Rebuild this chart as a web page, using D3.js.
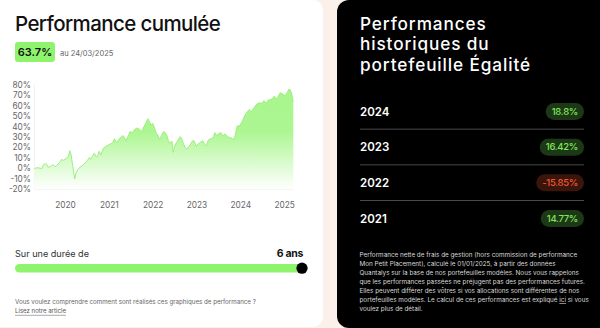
<!DOCTYPE html>
<html>
<head>
<meta charset="utf-8">
<script src="https://cdn.jsdelivr.net/npm/d3@7"></script>
<style>
  body { margin: 0; background: #fcf1ea; }
  svg { display: block; font-family: Inter, "Noto Sans", sans-serif; }
</style>
</head>
<body>
<svg id="chart" width="600" height="328"></svg>
<script>
// cumulated performance, decimal year -> %
const years = [2019.30, 2019.35, 2019.43, 2019.47, 2019.51, 2019.54, 2019.58, 2019.62, 2019.66, 2019.70,
  2019.73, 2019.77, 2019.81, 2019.89, 2019.92, 2019.96, 2020.00, 2020.04, 2020.08, 2020.11,
  2020.14, 2020.18, 2020.22, 2020.25, 2020.29, 2020.34, 2020.42, 2020.49, 2020.56, 2020.59,
  2020.63, 2020.67, 2020.71, 2020.75, 2020.78, 2020.82, 2020.88, 2020.95, 2021.03, 2021.09,
  2021.13, 2021.18, 2021.23, 2021.29, 2021.33, 2021.39, 2021.45, 2021.48, 2021.54, 2021.58,
  2021.64, 2021.70, 2021.75, 2021.80, 2021.85, 2021.89, 2021.93, 2021.96, 2022.00, 2022.04,
  2022.08, 2022.12, 2022.15, 2022.19, 2022.25, 2022.28, 2022.32, 2022.36, 2022.40, 2022.44,
  2022.47, 2022.51, 2022.56, 2022.63, 2022.66, 2022.70, 2022.74, 2022.78, 2022.82, 2022.87,
  2022.91, 2022.95, 2022.99, 2023.04, 2023.08, 2023.14, 2023.18, 2023.22, 2023.27, 2023.35,
  2023.39, 2023.42, 2023.46, 2023.52, 2023.56, 2023.60, 2023.65, 2023.71, 2023.75, 2023.81,
  2023.84, 2023.88, 2023.93, 2023.98, 2024.01, 2024.06, 2024.11, 2024.16, 2024.21, 2024.24,
  2024.28, 2024.34, 2024.38, 2024.44, 2024.49, 2024.54, 2024.59, 2024.64, 2024.70, 2024.74,
  2024.78, 2024.82, 2024.86, 2024.91, 2024.97, 2025.02, 2025.08, 2025.11, 2025.14, 2025.17,
  2025.20, 2025.21]
const perf = [-0.5, 0.4, 0, -0.5, 3.3, 4.3, 3.6, 0.8, 1.4, 2.4,
  3.3, 1.4, 2.4, 6.2, 8.4, 7.5, 8.4, 9.7, 11.6, 16.7,
  12.6, 1.4, -10.4, -5, -1.2, 0.8, 3.3, 6.2, 10.3, 8.4,
  11.6, 14.2, 11, 12, 16.1, 12.9, 19.3, 21.2, 23.1, 24.4,
  28.2, 24.4, 27.6, 30.2, 31.1, 26.3, 31.4, 35, 34, 36.6,
  38.5, 37.2, 35, 39.7, 43.6, 47.4, 44.5, 41.3, 42.9, 39.1,
  33.4, 31.8, 27.6, 30.2, 35, 34.3, 31.8, 26.3, 23.8, 26,
  15.1, 22.2, 25.4, 30.2, 28.6, 23.8, 19.9, 18.3, 20.6, 23.1,
  26.3, 26, 21.2, 23.1, 24.4, 26.3, 23.1, 21.2, 27, 28.6,
  30.2, 34, 31.4, 33.4, 34, 30.8, 32.7, 30.2, 29.5, 28.6,
  27, 30.8, 40.4, 40.4, 42.3, 46.1, 50.9, 54.1, 56.4, 53.2,
  55.7, 59.6, 61.5, 62.7, 62.1, 64.7, 62.1, 65.3, 65.9, 66.9,
  69.1, 65.9, 68.5, 72.3, 71.1, 69.1, 73.3, 75.8, 74.9, 72.3,
  65.3, 63.7]
const yTicks = [-20, -10, 0, 10, 20, 30, 40, 50, 60, 70, 80]
const xTicks = [2020, 2021, 2022, 2023, 2024, 2025]

const histYears = ["2024", "2023", "2022", "2021"]
const histPerf = [18.8, 16.42, -15.85, 14.77]
const histLabels = ["18.8%", "16.42%", "-15.85%", "14.77%"]

const totalPerf = "63.7%"
const perfDate = "au 24/03/2025"
const duration = "6 ans"

const disclaimer = [
  "Performance nette de frais de gestion (hors commission de performance",
  "Mon Petit Placement), calculé le 01/01/2025, à partir des données",
  "Quantalys sur la base de nos portefeuilles modèles. Nous vous rappelons",
  "que les performances passées ne préjugent pas des performances futures.",
  "Elles peuvent différer des vôtres si vos allocations sont différentes de nos",
  "portefeuilles modèles. Le calcul de ces performances est expliqué |ici| si vous",
  "voulez plus de détail."
]

const green = "#8ef46d"
const svg = d3.select("#chart")

// ajuste la taille de police pour que le texte fasse la largeur voulue
function fitSize(node, size, target) {
  const w = node.getComputedTextLength()
  return size * target / w
}

// fonds
svg.append("rect").attr("x", -20).attr("y", 0).attr("width", 343).attr("height", 327)
  .attr("rx", 10).attr("fill", "#fff")
svg.append("rect").attr("x", 337).attr("y", 0).attr("width", 300).attr("height", 328)
  .attr("rx", 12).attr("fill", "#000")

// titre gauche
const title = svg.append("text").attr("x", 15).attr("y", 31)
  .attr("font-size", 22).attr("font-weight", 500).attr("fill", "#111")
  .attr("letter-spacing", -0.6)
  .text("Performance cumulée")
title.attr("font-size", fitSize(title.node(), 22, 206))

const badge = svg.append("g").attr("transform", "translate(15,42)")
badge.append("rect").attr("width", 40).attr("height", 20).attr("rx", 3).attr("fill", green)
badge.append("text").attr("x", 20).attr("y", 14).attr("text-anchor", "middle")
  .attr("font-size", 11).attr("font-weight", 600).attr("fill", "#111").text(totalPerf)
svg.append("text").attr("x", 60).attr("y", 55.5).attr("font-size", 7.5).attr("fill", "#666")
  .text(perfDate)

// graphique
const x = d3.scaleLinear().domain(d3.extent(years)).range([34.3, 293.3])
const y = d3.scaleLinear().domain([-20, 80]).range([189, 84.7])
const pts = years.map((t, i) => [t, perf[i]])

const defs = svg.append("defs")
const grad = defs.append("linearGradient").attr("id", "fillGrad")
  .attr("gradientUnits", "userSpaceOnUse")
  .attr("x1", 0).attr("x2", 0).attr("y1", y(80)).attr("y2", y(-20))
grad.append("stop").attr("offset", 0).attr("stop-color", "#a7f68b")
grad.append("stop").attr("offset", 0.45).attr("stop-color", "#adf692")
grad.append("stop").attr("offset", 1).attr("stop-color", "#ffffff")

const g = svg.append("g")

g.append("line").attr("x1", x.range()[0]).attr("x2", x.range()[0])
  .attr("y1", y(80)).attr("y2", y(-20)).attr("stroke", "#f0f0f0")
g.append("line").attr("x1", x.range()[0]).attr("x2", x.range()[1])
  .attr("y1", y(-20)).attr("y2", y(-20)).attr("stroke", "#ececec")

g.append("path").datum(pts)
  .attr("fill", "url(#fillGrad)")
  .attr("d", d3.area().x(d => x(d[0])).y0(y(-20)).y1(d => y(d[1])))
g.append("path").datum(pts)
  .attr("fill", "none").attr("stroke", "#9bf07c").attr("stroke-width", 1)
  .attr("d", d3.line().x(d => x(d[0])).y(d => y(d[1])))

const yAxis = g.append("g").attr("transform", "translate(31,0)")
  .call(d3.axisLeft(y).tickValues(yTicks).tickSize(0).tickPadding(0).tickFormat(d => d + "%"))
yAxis.select(".domain").remove()
yAxis.selectAll("text").attr("font-size", 8.3).attr("fill", "#666").attr("font-family", "Inter, sans-serif")

const xAxis = g.append("g").attr("transform", "translate(0,202)")
  .call(d3.axisBottom(x).tickValues(xTicks).tickSize(0).tickPadding(0).tickFormat(d3.format("d")))
xAxis.select(".domain").remove()
xAxis.selectAll("text").attr("font-size", 8.3).attr("fill", "#666").attr("font-family", "Inter, sans-serif")

// durée
const dur = svg.append("text").attr("x", 15).attr("y", 256.5).attr("font-size", 10).attr("fill", "#333")
  .text("Sur une durée de")
dur.attr("font-size", fitSize(dur.node(), 10, 74))
svg.append("text").attr("x", 303).attr("y", 256.5).attr("text-anchor", "end")
  .attr("font-size", 10.5).attr("font-weight", 700).attr("fill", "#111")
  .attr("letter-spacing", -0.3).text(duration)
svg.append("rect").attr("x", 15).attr("y", 264).attr("width", 287).attr("height", 8.5)
  .attr("rx", 4.25).attr("fill", green)
svg.append("circle").attr("cx", 302).attr("cy", 268.2).attr("r", 5.6).attr("fill", "#000")

const q = svg.append("text").attr("x", 15).attr("y", 303.5).attr("font-size", 7).attr("fill", "#666")
  .text("Vous voulez comprendre comment sont réalisés ces graphiques de performance ?")
q.attr("font-size", fitSize(q.node(), 7, 241))
const link = svg.append("text").attr("x", 15).attr("y", 312.5).attr("font-size", 7).attr("fill", "#555")
  .text("Lisez notre article")
link.attr("font-size", fitSize(link.node(), 7, 51))
const lw = link.node().getComputedTextLength()
svg.append("line").attr("x1", 15).attr("x2", 15 + lw).attr("y1", 315.3).attr("y2", 315.3)
  .attr("stroke", "#bbb").attr("stroke-width", 1.2)

// panneau noir
const titleLines = ["Performances", "historiques du", "portefeuille Égalité"]
const rt = svg.append("g").selectAll("text").data(titleLines).join("text")
  .attr("x", 360).attr("y", (d, i) => 29.5 + i * 20.6)
  .attr("font-size", 17.2).attr("font-weight", 500).attr("fill", "#fff")
  .text(d => d)
// ajuste l'espacement pour tenir dans la largeur du modèle
const rtNode = rt.nodes()[2]
const rtLs = (171 - rtNode.getComputedTextLength()) / titleLines[2].length
rt.attr("letter-spacing", rtLs)

const rowY = d3.scalePoint().domain(histYears).range([111.5, 218.5])
const rows = svg.append("g").selectAll("g").data(histYears).join("g")
  .attr("transform", d => `translate(0,${rowY(d)})`)
rows.append("text").attr("x", 360).attr("y", 4).attr("font-size", 11.5).attr("font-weight", 600)
  .attr("fill", "#fff").text(d => d)
rows.each(function(d, i) {
  const row = d3.select(this)
  const pos = histPerf[i] >= 0
  const t = row.append("text").attr("x", 578).attr("y", 3.3).attr("text-anchor", "end")
    .attr("font-size", 9.5).attr("font-weight", 500).attr("letter-spacing", -0.3)
    .attr("fill", pos ? "#7fe65a" : "#f2562c").text(histLabels[i])
  const w = t.node().getComputedTextLength()
  row.insert("rect", "text:last-child").attr("x", 584 - w - 12).attr("y", -8.5)
    .attr("width", w + 12).attr("height", 17).attr("rx", 8.5)
    .attr("fill", pos ? "#1d3816" : "#3a150c")
})
svg.append("g").selectAll("line").data(histYears.slice(1)).join("line")
  .attr("x1", 360).attr("x2", 584)
  .attr("y1", d => rowY(d) - 18).attr("y2", d => rowY(d) - 18)
  .attr("stroke", "#4a4a4a").attr("stroke-width", 1)

const disc = svg.append("g").selectAll("text").data(disclaimer).join("text")
  .attr("x", 359.5).attr("y", (d, i) => 256.5 + i * 9.15)
  .attr("font-size", 7).attr("fill", "#d8d8d8")
disc.each(function(d) {
  const parts = d.split("|")
  const el = d3.select(this)
  parts.forEach((p, k) => {
    el.append("tspan").text(p).attr("text-decoration", k === 1 ? "underline" : null)
  })
})
disc.attr("font-size", fitSize(disc.nodes()[0], 7, 218))
</script>
</body>
</html>
